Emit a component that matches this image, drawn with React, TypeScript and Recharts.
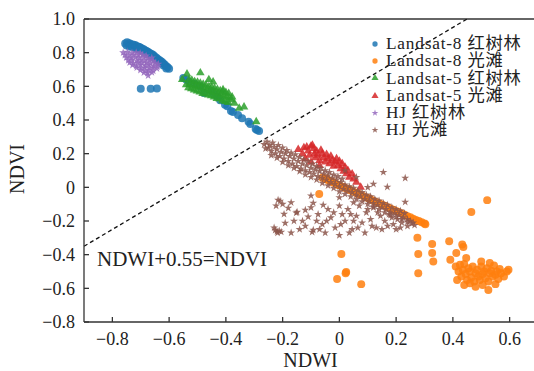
import { ScatterChart, Scatter, XAxis, YAxis, ReferenceLine, Symbols } from 'recharts';

// [NDWI, NDVI] pairs
const landsat8Mangrove: [number, number][] = [
  [-0.755, 0.855], [-0.748, 0.862], [-0.74, 0.856], [-0.735, 0.85], [-0.728, 0.848], [-0.72, 0.845],
  [-0.715, 0.838], [-0.71, 0.836], [-0.705, 0.833], [-0.7, 0.829], [-0.695, 0.824], [-0.69, 0.82],
  [-0.685, 0.814], [-0.68, 0.81], [-0.675, 0.806], [-0.67, 0.8], [-0.665, 0.794], [-0.66, 0.79],
  [-0.655, 0.784], [-0.65, 0.776], [-0.645, 0.77], [-0.64, 0.762], [-0.635, 0.756], [-0.63, 0.75],
  [-0.625, 0.744], [-0.62, 0.736], [-0.615, 0.729], [-0.61, 0.72], [-0.605, 0.714], [-0.6, 0.705],
  [-0.75, 0.842], [-0.74, 0.836], [-0.73, 0.834], [-0.72, 0.827], [-0.71, 0.82], [-0.7, 0.814],
  [-0.69, 0.804], [-0.68, 0.796], [-0.67, 0.788], [-0.66, 0.777], [-0.65, 0.764], [-0.64, 0.75],
  [-0.63, 0.738], [-0.62, 0.724], [-0.61, 0.706],
  [-0.7, 0.585], [-0.665, 0.585], [-0.643, 0.587],
  [-0.55, 0.65], [-0.54, 0.64], [-0.53, 0.628], [-0.51, 0.614], [-0.49, 0.6], [-0.477, 0.56],
  [-0.45, 0.57], [-0.44, 0.552], [-0.43, 0.538], [-0.42, 0.518], [-0.403, 0.49], [-0.395, 0.482],
  [-0.382, 0.453], [-0.375, 0.448], [-0.357, 0.43], [-0.343, 0.41], [-0.32, 0.39], [-0.314, 0.376],
  [-0.295, 0.347], [-0.29, 0.34], [-0.283, 0.335],
];

const landsat8Flat: [number, number][] = [
  [-0.06, 0.057], [-0.05, 0.05], [-0.045, 0.052], [-0.04, 0.042], [-0.03, 0.035], [-0.025, 0.033],
  [-0.02, 0.027], [-0.01, 0.02], [-0.005, 0.014], [0.0, 0.012], [0.01, 0.004], [0.015, 0.002],
  [0.02, -0.004], [0.03, -0.011], [0.035, -0.012], [0.04, -0.019], [0.05, -0.026], [0.06, -0.034],
  [0.065, -0.036], [0.07, -0.042], [0.08, -0.049], [0.09, -0.057], [0.1, -0.064], [0.105, -0.066],
  [0.11, -0.072], [0.12, -0.08], [0.13, -0.087], [0.14, -0.095], [0.15, -0.102], [0.16, -0.11],
  [0.17, -0.118], [0.18, -0.125], [0.19, -0.133], [0.2, -0.14], [0.21, -0.148], [0.22, -0.156],
  [0.23, -0.163], [0.24, -0.171], [0.25, -0.178], [0.26, -0.186], [0.27, -0.194], [0.28, -0.2],
  [0.29, -0.208], [0.3, -0.215], [0.303, -0.219],
  [-0.071, -0.04], [0.275, -0.3], [0.327, -0.337], [0.278, -0.396], [0.327, -0.39], [0.331, -0.44],
  [0.278, -0.51], [0.387, -0.32], [0.412, -0.39], [0.433, -0.34], [0.437, -0.355], [0.447, -0.42],
  [0.391, -0.43], [0.521, -0.076], [0.465, -0.147], [0.007, -0.396], [0.024, -0.503],
  [-0.008, -0.545], [0.077, -0.575], [0.022, -0.51],
  [0.41, -0.47], [0.42, -0.5], [0.425, -0.46], [0.43, -0.53], [0.435, -0.49], [0.44, -0.455],
  [0.445, -0.515], [0.45, -0.55], [0.455, -0.48], [0.46, -0.5], [0.465, -0.535], [0.47, -0.47],
  [0.475, -0.56], [0.48, -0.51], [0.485, -0.49], [0.49, -0.53], [0.495, -0.55], [0.5, -0.47],
  [0.505, -0.515], [0.51, -0.5], [0.515, -0.54], [0.52, -0.48], [0.525, -0.56], [0.53, -0.51],
  [0.535, -0.495], [0.54, -0.53], [0.545, -0.465], [0.55, -0.52], [0.555, -0.5], [0.56, -0.545],
  [0.565, -0.485], [0.57, -0.51], [0.58, -0.53], [0.59, -0.5], [0.596, -0.49], [0.525, -0.61],
  [0.505, -0.58], [0.46, -0.57], [0.44, -0.58], [0.48, -0.59], [0.55, -0.575], [0.415, -0.55],
  [0.5, -0.44], [0.53, -0.45],
];

const landsat5Mangrove: [number, number][] = [
  [-0.554, 0.64], [-0.537, 0.673], [-0.49, 0.68], [-0.54, 0.61], [-0.445, 0.626], [-0.378, 0.537],
  [-0.353, 0.47], [-0.336, 0.477], [-0.293, 0.39], [-0.46, 0.64], [-0.41, 0.58],
  [-0.53, 0.64], [-0.528, 0.612], [-0.532, 0.592], [-0.52, 0.636], [-0.518, 0.608], [-0.522, 0.586],
  [-0.51, 0.628], [-0.508, 0.602], [-0.512, 0.578], [-0.5, 0.624], [-0.498, 0.598], [-0.502, 0.572],
  [-0.49, 0.618], [-0.488, 0.594], [-0.492, 0.566], [-0.48, 0.612], [-0.478, 0.586], [-0.482, 0.558],
  [-0.47, 0.606], [-0.468, 0.58], [-0.472, 0.554], [-0.46, 0.598], [-0.458, 0.574], [-0.462, 0.548],
  [-0.45, 0.594], [-0.448, 0.568], [-0.452, 0.544], [-0.44, 0.588], [-0.438, 0.564], [-0.442, 0.536],
  [-0.43, 0.582], [-0.428, 0.556], [-0.432, 0.528], [-0.42, 0.574], [-0.418, 0.55], [-0.422, 0.524],
  [-0.41, 0.568], [-0.408, 0.544], [-0.412, 0.514], [-0.4, 0.564], [-0.398, 0.538], [-0.402, 0.51],
  [-0.39, 0.558], [-0.388, 0.53], [-0.392, 0.504], [-0.38, 0.52], [-0.37, 0.5],
];

const landsat5Flat: [number, number][] = [
  [-0.145, 0.225], [-0.13, 0.2], [-0.125, 0.235], [-0.115, 0.24], [-0.11, 0.215], [-0.105, 0.19],
  [-0.1, 0.245], [-0.095, 0.25], [-0.09, 0.23], [-0.088, 0.2], [-0.085, 0.175], [-0.08, 0.215],
  [-0.075, 0.19], [-0.07, 0.16], [-0.065, 0.22], [-0.06, 0.2], [-0.055, 0.175], [-0.05, 0.15],
  [-0.045, 0.195], [-0.04, 0.17], [-0.035, 0.14], [-0.03, 0.185], [-0.025, 0.16], [-0.02, 0.125],
  [-0.015, 0.15], [-0.01, 0.17], [-0.005, 0.13], [0.0, 0.155], [0.005, 0.11], [0.01, 0.14],
  [0.015, 0.095], [0.02, 0.12], [0.025, 0.08], [0.03, 0.1], [0.035, 0.06], [0.045, 0.08],
  [0.05, 0.05], [0.06, 0.03], [0.075, 0.0], [-0.12, 0.17], [-0.1, 0.15], [-0.07, 0.13],
];

const hjMangrove: [number, number][] = [
  [-0.762, 0.8], [-0.747, 0.803], [-0.731, 0.798], [-0.716, 0.801], [-0.702, 0.797],
  [-0.756, 0.786], [-0.741, 0.783], [-0.726, 0.788], [-0.709, 0.784], [-0.694, 0.787], [-0.681, 0.782],
  [-0.751, 0.771], [-0.734, 0.768], [-0.719, 0.773], [-0.706, 0.769], [-0.689, 0.772], [-0.676, 0.767], [-0.661, 0.77],
  [-0.744, 0.754], [-0.731, 0.757], [-0.714, 0.752], [-0.699, 0.756], [-0.686, 0.751], [-0.669, 0.755], [-0.656, 0.75],
  [-0.739, 0.741], [-0.726, 0.737], [-0.709, 0.742], [-0.696, 0.738], [-0.679, 0.741], [-0.666, 0.736], [-0.649, 0.74], [-0.638, 0.733],
  [-0.729, 0.726], [-0.716, 0.722], [-0.701, 0.727], [-0.684, 0.723], [-0.671, 0.727], [-0.654, 0.722], [-0.641, 0.718],
  [-0.714, 0.711], [-0.699, 0.707], [-0.686, 0.712], [-0.669, 0.708], [-0.656, 0.711], [-0.643, 0.706],
  [-0.701, 0.696], [-0.684, 0.693], [-0.671, 0.697], [-0.656, 0.692],
  [-0.689, 0.681], [-0.676, 0.678], [-0.661, 0.683], [-0.674, 0.664],
];

const hjFlat: [number, number][] = [
  [-0.265, 0.255], [-0.255, 0.27], [-0.25, 0.235], [-0.245, 0.25], [-0.24, 0.215], [-0.235, 0.265],
  [-0.23, 0.24], [-0.225, 0.2], [-0.22, 0.225], [-0.215, 0.25], [-0.21, 0.185], [-0.205, 0.21],
  [-0.2, 0.235], [-0.195, 0.17], [-0.19, 0.2], [-0.185, 0.22], [-0.18, 0.155], [-0.175, 0.185],
  [-0.17, 0.205], [-0.165, 0.14], [-0.16, 0.17], [-0.155, 0.195], [-0.15, 0.125], [-0.145, 0.155],
  [-0.14, 0.18], [-0.135, 0.11], [-0.13, 0.14], [-0.125, 0.165],
  [-0.12, 0.1], [-0.115, 0.13], [-0.11, 0.155], [-0.105, 0.09], [-0.1, 0.115], [-0.095, 0.14],
  [-0.09, 0.08], [-0.085, 0.105], [-0.08, 0.125], [-0.075, 0.065], [-0.07, 0.095], [-0.065, 0.115],
  [-0.06, 0.055], [-0.055, 0.08], [-0.05, 0.1], [-0.045, 0.045], [-0.04, 0.07], [-0.035, 0.09],
  [-0.03, 0.03], [-0.025, 0.055], [-0.02, 0.075], [-0.015, 0.02], [-0.01, 0.045], [-0.005, 0.065],
  [0.0, 0.005], [0.005, 0.03], [0.01, 0.05], [0.015, -0.01], [0.02, 0.015], [0.03, -0.02],
  [0.035, 0.005], [0.045, -0.03], [0.05, -0.005], [0.06, -0.045], [0.065, -0.02], [0.075, -0.055],
  [0.08, -0.03], [0.09, -0.07], [0.095, -0.045],
  [0.105, -0.08], [0.11, -0.055], [0.12, -0.095], [0.125, -0.07], [0.135, -0.105], [0.14, -0.08],
  [0.15, -0.12], [0.155, -0.095], [0.165, -0.13], [0.17, -0.105], [0.18, -0.145], [0.185, -0.12],
  [0.195, -0.155], [0.2, -0.13], [0.21, -0.165], [0.215, -0.14], [0.225, -0.18], [0.23, -0.155],
  [0.24, -0.19], [0.25, -0.2], [0.26, -0.21], [0.265, -0.225],
  [-0.26, 0.23], [-0.24, 0.19], [-0.22, 0.175], [-0.2, 0.15], [-0.18, 0.13], [-0.16, 0.115],
  [-0.14, 0.095], [-0.12, 0.075], [-0.1, 0.06], [-0.08, 0.045], [-0.06, 0.025], [-0.04, 0.01],
  [-0.02, -0.005], [0.0, -0.025], [0.02, -0.04], [0.04, -0.055], [0.06, -0.07], [0.08, -0.085],
  [0.1, -0.1], [0.12, -0.115], [0.14, -0.13], [0.16, -0.15], [0.18, -0.165], [0.2, -0.175],
  [0.22, -0.19], [0.24, -0.205], [0.255, -0.215],
  [0.155, 0.09], [0.232, 0.055], [0.169, 0.002], [0.12, 0.02], [0.06, 0.06], [0.02, 0.1],
  [0.232, -0.087], [0.1, 0.0],
  [-0.216, -0.075], [-0.209, -0.081], [-0.223, -0.11], [-0.18, -0.123], [-0.152, -0.152],
  [-0.195, -0.159], [-0.191, -0.212], [-0.226, -0.254], [-0.22, -0.262], [-0.212, -0.258],
  [-0.218, -0.27], [-0.205, -0.265], [-0.149, -0.147], [-0.12, -0.135], [-0.092, -0.093],
  [-0.092, -0.254], [-0.096, -0.266], [-0.057, -0.105], [-0.13, -0.2], [-0.11, -0.175],
  [-0.075, -0.16], [-0.06, -0.22], [-0.04, -0.13], [-0.03, -0.18], [-0.015, -0.24], [0.0, -0.11],
  [0.01, -0.16], [0.02, -0.2], [0.03, -0.13], [0.045, -0.25], [0.06, -0.17], [0.07, -0.11],
  [0.08, -0.21], [0.095, -0.15], [0.11, -0.19], [0.12, -0.12], [0.13, -0.24], [0.145, -0.17],
  [0.16, -0.2], [0.175, -0.16], [0.19, -0.22], [0.205, -0.19], [0.22, -0.21], [-0.17, -0.27],
  [-0.14, -0.25], [-0.05, -0.27], [0.0, -0.285], [0.05, -0.2], [-0.08, -0.2],
  [-0.2, -0.1], [-0.17, -0.09], [-0.16, -0.2], [-0.12, -0.23], [-0.1, -0.12], [-0.07, -0.25],
  [-0.045, -0.2], [-0.02, -0.15], [0.005, -0.22], [0.035, -0.27], [0.04, -0.16], [0.065, -0.24],
  [0.09, -0.27], [0.1, -0.13], [0.115, -0.23], [0.135, -0.15], [0.15, -0.25], [0.17, -0.23],
  [0.185, -0.18], [0.2, -0.25], [0.215, -0.24], [0.24, -0.23], [-0.23, -0.24], [-0.1, -0.05],
  [0.0, -0.06], [0.05, -0.09],
];

const xTicks = [-0.8, -0.6, -0.4, -0.2, 0, 0.2, 0.4, 0.6];
const yTicks = [-0.8, -0.6, -0.4, -0.2, 0, 0.2, 0.4, 0.6, 0.8, 1.0];

const toPoints = (arr: [number, number][]) => arr.map(([x, y]) => ({ x, y }));
const fmt = (v: number) => (v === 0 ? '0' : v < 0 ? '\u2212' + Math.abs(v).toFixed(1) : v.toFixed(1));

const FONT = "'Liberation Serif', 'Noto Sans CJK SC', serif";
const axisColor = '#333';

const markerSize = { circle: 50, triangle: 32, star: 20 } as const;

const series = [
  { name: 'Landsat-8 红树林', data: landsat8Mangrove, color: '#1f77b4', shape: 'circle' },
  { name: 'Landsat-8 光滩', data: landsat8Flat, color: '#ff7f0e', shape: 'circle' },
  { name: 'Landsat-5 红树林', data: landsat5Mangrove, color: '#2ca02c', shape: 'triangle' },
  { name: 'Landsat-5 光滩', data: landsat5Flat, color: '#d62728', shape: 'triangle' },
  { name: 'HJ 红树林', data: hjMangrove, color: '#9467bd', shape: 'star' },
  { name: 'HJ 光滩', data: hjFlat, color: '#8c564b', shape: 'star' },
] as const;

const makeShape = (type: 'circle' | 'triangle' | 'star', color: string) => (props: any) => (
  <Symbols cx={props.cx} cy={props.cy} type={type} size={markerSize[type]} fill={color} fillOpacity={0.85} />
);

export default function App() {
  const tickStyle = { fontSize: 18, fill: '#222', fontFamily: FONT };
  return (
    <div style={{ position: 'absolute', left: 0, top: 0, width: 534, height: 371, overflow: 'hidden', fontFamily: FONT }}>
      <style>{`.recharts-wrapper text { font-family: ${FONT}; }`}</style>
      <ScatterChart width={545} height={371} margin={{ top: 19, right: 7, left: 34, bottom: 19 }}>
        <XAxis
          type="number"
          dataKey="x"
          domain={[-0.9, 0.7]}
          ticks={xTicks}
          tickFormatter={fmt}
          allowDataOverflow
          height={30}
          tickSize={-5}
          tickMargin={15}
          tick={tickStyle}
          stroke={axisColor}
          strokeWidth={1.3}
        />
        <YAxis
          type="number"
          dataKey="y"
          domain={[-0.8, 1.0]}
          ticks={yTicks}
          tickFormatter={fmt}
          allowDataOverflow
          width={50}
          tickSize={-5}
          tickMargin={14}
          tick={tickStyle}
          stroke={axisColor}
          strokeWidth={1.3}
        />
        <ReferenceLine y={1.0} stroke={axisColor} strokeWidth={1.3} />
        <ReferenceLine
          segment={[{ x: -0.9, y: -0.35 }, { x: 0.45, y: 1.0 }]}
          stroke="#111"
          strokeWidth={1.3}
          strokeDasharray="4 3"
        />
        {series.map((s) => (
          <Scatter
            key={s.name}
            name={s.name}
            data={toPoints(s.data as any)}
            shape={makeShape(s.shape, s.color)}
            fill={s.color}
            isAnimationActive={false}
          />
        ))}
      </ScatterChart>

      <div style={{ position: 'absolute', left: 283, top: 350, width: 55, textAlign: 'center', fontSize: 20, color: '#222', lineHeight: '20px' }}>
        NDWI
      </div>
      <div
        style={{
          position: 'absolute', left: 17, top: 169, fontSize: 20, color: '#222', lineHeight: '20px',
          transform: 'translate(-50%, -50%) rotate(-90deg)', whiteSpace: 'nowrap',
        }}
      >
        NDVI
      </div>
      <div style={{ position: 'absolute', left: 97, top: 248, fontSize: 21, color: '#222', lineHeight: '22px', whiteSpace: 'nowrap' }}>
        NDWI+0.55=NDVI
      </div>

      <div style={{ position: 'absolute', left: 368, top: 35 }}>
        {series.map((s) => (
          <div key={s.name} style={{ display: 'flex', alignItems: 'center', height: 17.3, fontSize: 17.3, color: '#222', whiteSpace: 'nowrap' }}>
            <svg width={14} height={10} style={{ marginRight: 4 }}>
              <Symbols cx={7} cy={5} type={s.shape} size={s.shape === 'star' ? 14 : 22} fill={s.color} fillOpacity={0.85} />
            </svg>
            <span style={{ lineHeight: '17.3px', letterSpacing: '0.8px' }}>{s.name}</span>
          </div>
        ))}
      </div>
    </div>
  );
}
